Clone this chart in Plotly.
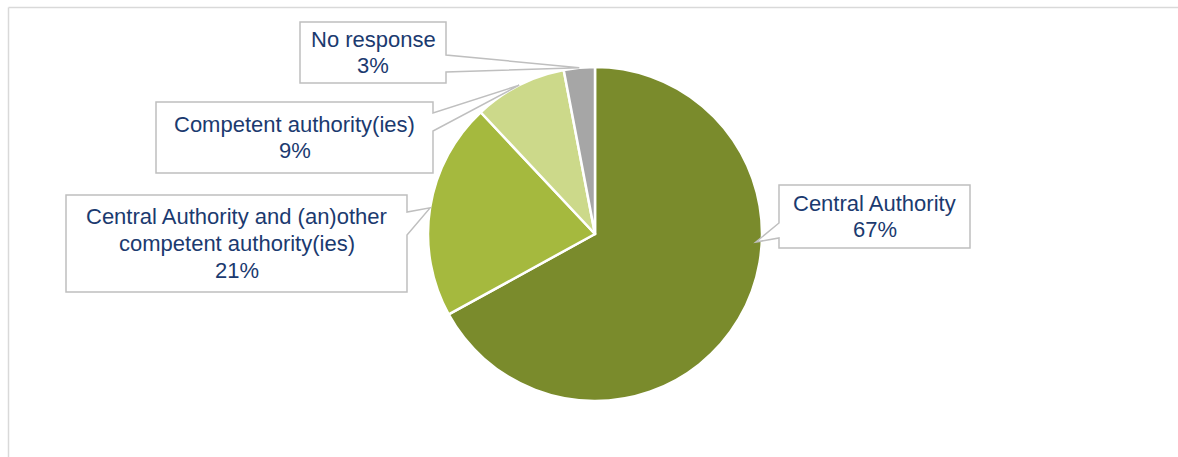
import math
import plotly.graph_objects as go

# ---- data ----
labels = ["Central Authority",
          "Central Authority and (an)other competent authority(ies)",
          "Competent authority(ies)",
          "No response"]
label_lines = [["Central Authority"],
               ["Central Authority and (an)other", "competent authority(ies)"],
               ["Competent authority(ies)"],
               ["No response"]]
values = [67, 21, 9, 3]
colors = ["#7A8B2C", "#A5B93E", "#CCD98A", "#A6A6A6"]

W, H = 1178, 457
# pie placement in pixels (layout)
CX, CY, R = 595, 234, 167

# callout boxes (pixel layout): x0, x1, y0, y1, tail side, tail y0, tail y1
boxes = [
    (779, 970, 185, 248, "left", 223, 238),
    (66, 407, 195, 292, "right", 212, 235),
    (156, 433, 102, 173, "right", 113, 131),
    (300, 446, 22, 83, "right", 55, 72),
]
tip_frac = [0.385, 0.5, 0.5, 0.5]
tip_rfac = [0.965, 1.0, 1.0, 1.0]

TEXT = "#1B3A6F"
LINE = "#BFBFBF"
FONT_SIZE = 22
PITCH = 26.5


def px(x):
    return x / W


def py(y):
    return 1 - y / H


fig = go.Figure(go.Pie(
    labels=labels, values=values, sort=False, direction="clockwise", rotation=0,
    marker=dict(colors=colors, line=dict(color="white", width=2.5)),
    textinfo="none", hoverinfo="label+percent", showlegend=False,
    domain=dict(x=[px(CX - R), px(CX + R)], y=[py(CY + R), py(CY - R)]),
))

total = sum(values)
shapes = []
annotations = []
cum = 0
for i, v in enumerate(values):
    start = cum / total * 360
    span = v / total * 360
    cum += v
    a = math.radians(start + tip_frac[i] * span)
    rr = R * tip_rfac[i]
    tx = CX + rr * math.sin(a)
    ty = CY - rr * math.cos(a)
    x0, x1, y0, y1, side, t0, t1 = boxes[i]
    if side == "right":
        pts = [(x0, y0), (x1, y0), (x1, t0), (tx, ty), (x1, t1), (x1, y1), (x0, y1)]
    else:
        pts = [(x0, y0), (x1, y0), (x1, y1), (x0, y1), (x0, t1), (tx, ty), (x0, t0)]
    path = "M " + " L ".join(f"{px(x):.5f},{py(y):.5f}" for x, y in pts) + " Z"
    shapes.append(dict(type="path", xref="paper", yref="paper", path=path,
                       fillcolor="white", line=dict(color=LINE, width=1.5), layer="above"))
    pct = round(v / total * 100)
    lines = label_lines[i] + [f"{pct}%"]
    n = len(lines)
    cy = (y0 + y1) / 2
    for k, ln in enumerate(lines):
        ly = cy + (k - (n - 1) / 2) * PITCH
        annotations.append(dict(x=px((x0 + x1) / 2), y=py(ly), xref="paper", yref="paper",
                                text=ln, showarrow=False, xanchor="center", yanchor="middle",
                                align="center",
                                font=dict(family="Liberation Sans, Arial, sans-serif",
                                          size=FONT_SIZE, color=TEXT)))

# chart area frame (left and top edges visible)
shapes.append(dict(type="line", xref="paper", yref="paper", x0=px(8.5), x1=px(8.5), y0=py(7.5), y1=py(H + 5),
                   line=dict(color="#D9D9D9", width=1.5)))
shapes.append(dict(type="line", xref="paper", yref="paper", x0=px(8.5), x1=px(W + 5), y0=py(7.5), y1=py(7.5),
                   line=dict(color="#D9D9D9", width=1.5)))

fig.update_layout(width=W, height=H, margin=dict(l=0, r=0, t=0, b=0),
                  paper_bgcolor="white", plot_bgcolor="white",
                  shapes=shapes, annotations=annotations)

fig.write_html("out.html")
